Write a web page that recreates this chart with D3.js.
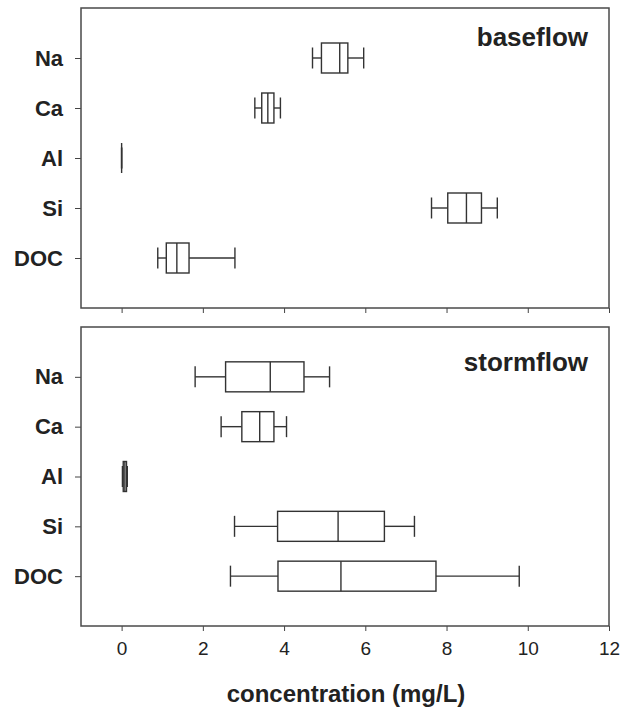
<!DOCTYPE html>
<html>
<head>
<meta charset="utf-8">
<script src="https://cdn.jsdelivr.net/npm/d3@7"></script>
<style>
    body { margin: 0; background: #fff; }
    svg { display: block; font-family: "Liberation Sans", Arial, sans-serif; }
</style>
</head>
<body>
<div id="chart"></div>
<script>
// categories on the y axis (top to bottom)
const categories = ["Na", "Ca", "Al", "Si", "DOC"];

// [whisker low, Q1, median, Q3, whisker high] in mg/L, one row per category
const baseflow = [
    [4.70, 4.92, 5.37, 5.57, 5.96],
    [3.28, 3.45, 3.60, 3.75, 3.91],
    [0.00, 0.00, 0.00, 0.00, 0.00],
    [7.63, 8.03, 8.49, 8.86, 9.25],
    [0.89, 1.10, 1.36, 1.66, 2.79]
];

const stormflow = [
    [1.81, 2.56, 3.66, 4.49, 5.12],
    [2.45, 2.96, 3.40, 3.75, 4.06],
    [0.02, 0.04, 0.08, 0.12, 0.14],
    [2.78, 3.84, 5.33, 6.47, 7.21],
    [2.68, 3.85, 5.40, 7.74, 9.79]
];

const xTicks = [0, 2, 4, 6, 8, 10, 12];

class BoxPanel {
    constructor(svg, opts) {
        this.svg = svg;
        this.opts = opts;
        this.draw();
    }

    draw() {
        const vis = this;
        const o = vis.opts;

        vis.x = d3.scaleLinear().domain([-1, 12]).range([81, 609]);
        vis.y = d3.scalePoint().domain(categories).range([o.top, o.bottom]).padding(1);

        vis.g = vis.svg.append("g");

        // bottom axis (labels only on the lower panel)
        vis.g.append("g")
            .attr("transform", `translate(0,${o.bottom})`)
            .call(d3.axisBottom(vis.x)
                .tickValues(xTicks)
                .tickSize(5)
                .tickSizeOuter(0)
                .tickFormat(o.showXLabels ? d3.format("d") : ""))
            .call(g => g.select(".domain").remove())
            .call(g => g.selectAll(".tick line").attr("stroke", "#444"))
            .call(g => g.selectAll(".tick text")
                .attr("dy", "1.1em")
                .attr("fill", "#222")
                .style("font-size", "19px"));

        // left axis with bold category names
        vis.g.append("g")
            .attr("transform", `translate(81,0)`)
            .call(d3.axisLeft(vis.y).tickSize(6).tickPadding(12))
            .call(g => g.select(".domain").remove())
            .call(g => g.selectAll(".tick line").attr("stroke", "#444"))
            .call(g => g.selectAll(".tick text")
                .attr("fill", "#222")
                .style("font-size", "22px")
                .style("font-weight", "bold"));

        // panel frame
        vis.g.append("rect")
            .attr("x", 81)
            .attr("y", o.top)
            .attr("width", 609 - 81)
            .attr("height", o.bottom - o.top)
            .attr("fill", "none")
            .attr("stroke", "#4a4a4a")
            .attr("stroke-width", 1.5);

        const boxH = 30;
        const capH = 21;

        const boxes = vis.g.selectAll(".box")
            .data(o.data.map((s, i) => ({ cat: categories[i], s: s })))
            .join("g")
            .attr("class", "box")
            .attr("transform", d => `translate(0,${vis.y(d.cat)})`)
            .attr("stroke", "#333")
            .attr("stroke-width", 1.4)
            .attr("fill", "none");

        // whiskers
        boxes.append("line")
            .attr("x1", d => vis.x(d.s[0]))
            .attr("x2", d => vis.x(d.s[1]));
        boxes.append("line")
            .attr("x1", d => vis.x(d.s[3]))
            .attr("x2", d => vis.x(d.s[4]));

        // caps
        boxes.append("line")
            .attr("x1", d => vis.x(d.s[0]))
            .attr("x2", d => vis.x(d.s[0]))
            .attr("y1", -capH / 2)
            .attr("y2", capH / 2);
        boxes.append("line")
            .attr("x1", d => vis.x(d.s[4]))
            .attr("x2", d => vis.x(d.s[4]))
            .attr("y1", -capH / 2)
            .attr("y2", capH / 2);

        // box
        boxes.append("rect")
            .attr("x", d => vis.x(d.s[1]))
            .attr("y", -boxH / 2)
            .attr("width", d => vis.x(d.s[3]) - vis.x(d.s[1]))
            .attr("height", boxH)
            .attr("fill", "#fff");

        // median
        boxes.append("line")
            .attr("x1", d => vis.x(d.s[2]))
            .attr("x2", d => vis.x(d.s[2]))
            .attr("y1", -boxH / 2)
            .attr("y2", boxH / 2);

        // panel label
        vis.g.append("text")
            .attr("x", 588)
            .attr("y", o.labelY)
            .attr("text-anchor", "end")
            .attr("fill", "#222")
            .style("font-size", "26px")
            .style("font-weight", "bold")
            .text(o.label);
    }
}

const svg = d3.select("#chart")
    .append("svg")
    .attr("width", 621)
    .attr("height", 714);

new BoxPanel(svg, { top: 8, bottom: 308, data: baseflow, label: "baseflow", labelY: 46, showXLabels: false });
new BoxPanel(svg, { top: 327, bottom: 626, data: stormflow, label: "stormflow", labelY: 371, showXLabels: true });

// x axis title
svg.append("text")
    .attr("x", 346)
    .attr("y", 702)
    .attr("text-anchor", "middle")
    .attr("fill", "#222")
    .style("font-size", "24px")
    .style("font-weight", "bold")
    .text("concentration (mg/L)");
</script>
</body>
</html>
